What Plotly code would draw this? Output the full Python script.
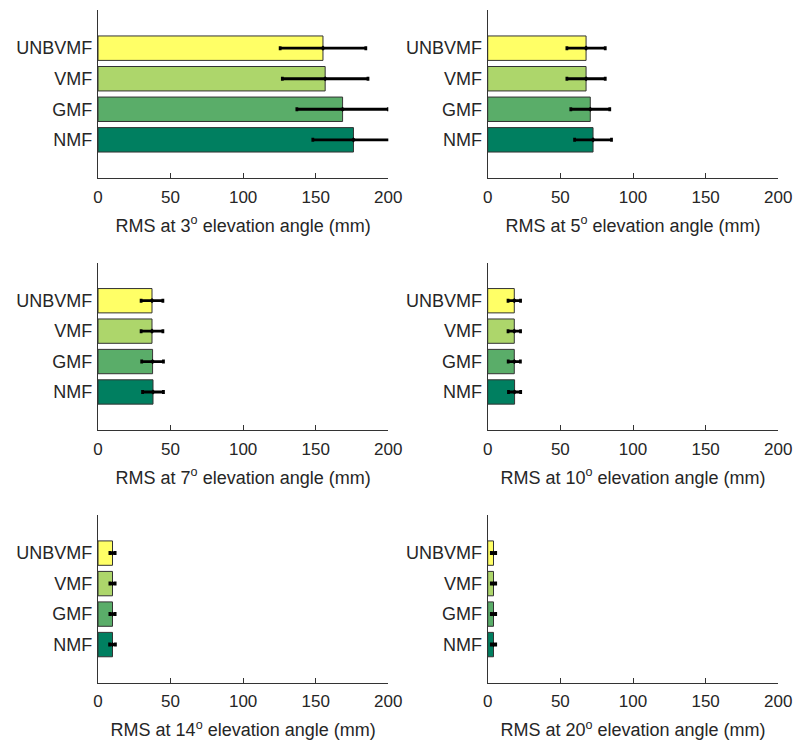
import plotly.graph_objects as go

categories = ["NMF", "GMF", "VMF", "UNBVMF"]
angles = [3, 5, 7, 10, 14, 20]
rms = {
    3: [176.0, 168.5, 156.5, 155.0],
    5: [72.5, 70.6, 67.7, 67.7],
    7: [37.9, 37.6, 37.2, 37.2],
    10: [18.5, 18.3, 18.3, 18.3],
    14: [10.0, 10.0, 10.0, 10.0],
    20: [4.0, 4.0, 4.0, 4.0],
}
err = {
    3: [28.0, 31.5, 29.5, 29.5],
    5: [12.7, 13.4, 13.2, 13.2],
    7: [7.2, 7.5, 7.5, 7.5],
    10: [4.2, 4.2, 4.3, 4.3],
    14: [2.0, 1.8, 1.8, 1.8],
    20: [1.5, 1.5, 1.5, 1.5],
}
colors = ["#007F60", "#5AAD69", "#ADD66B", "#FFFF66"]
x_ticks = [0, 50, 100, 150, 200]

W, H = 794, 741
col_px = [(98, 388.3), (487.7, 778.3)]
row_px = [(10, 178), (262.7, 430), (515, 682.7)]

fig = go.Figure()
ypos = [1, 2, 3, 4]
font = "Liberation Sans, Arial, sans-serif"
txt = "#262626"
axc = "#333333"

for i, a in enumerate(angles):
    r, c = divmod(i, 2)
    n = i + 1
    xs = "x" if n == 1 else f"x{n}"
    ys = "y" if n == 1 else f"y{n}"
    fig.add_trace(go.Bar(
        x=rms[a], y=ypos, orientation="h", width=0.8,
        marker=dict(color=colors, line=dict(color="#333333", width=1)),
        error_x=dict(type="data", array=err[a], color="black", thickness=2.8, width=2),
        xaxis=xs, yaxis=ys, showlegend=False,
    ))
    fig.add_trace(go.Scatter(
        x=rms[a], y=ypos, mode="markers",
        marker=dict(color="black", size=4, symbol="diamond"),
        xaxis=xs, yaxis=ys, showlegend=False,
    ))
    x0, x1 = col_px[c]
    y0, y1 = row_px[r]
    xk = "xaxis" if n == 1 else f"xaxis{n}"
    yk = "yaxis" if n == 1 else f"yaxis{n}"
    fig.layout[xk] = dict(
        domain=[x0 / W, x1 / W], anchor=ys, range=[0, 200], automargin=False,
        tickvals=x_ticks, ticks="inside", ticklen=5, tickcolor=axc,
        ticklabelstandoff=3,
        showline=True, linecolor=axc, linewidth=1.2, showgrid=False, zeroline=False,
        tickfont=dict(family=font, size=17, color=txt),
        title=dict(text=f"RMS at {a}<sup>o</sup> elevation angle (mm)",
                   font=dict(family=font, size=18, color=txt), standoff=13),
        fixedrange=True,
    )
    fig.layout[yk] = dict(
        domain=[1 - y1 / H, 1 - y0 / H], anchor=xs, range=[-0.25, 5.25], automargin=False,
        tickvals=ypos, ticktext=categories, ticks="", ticklabelstandoff=1,
        showline=True, linecolor=axc, linewidth=1.2, showgrid=False, zeroline=False,
        tickfont=dict(family=font, size=18, color=txt),
        fixedrange=True,
    )

fig.update_layout(
    width=W, height=H, margin=dict(l=0, r=0, t=0, b=0),
    paper_bgcolor="white", plot_bgcolor="white", bargap=0.2,
)
fig.write_html("out.html")
